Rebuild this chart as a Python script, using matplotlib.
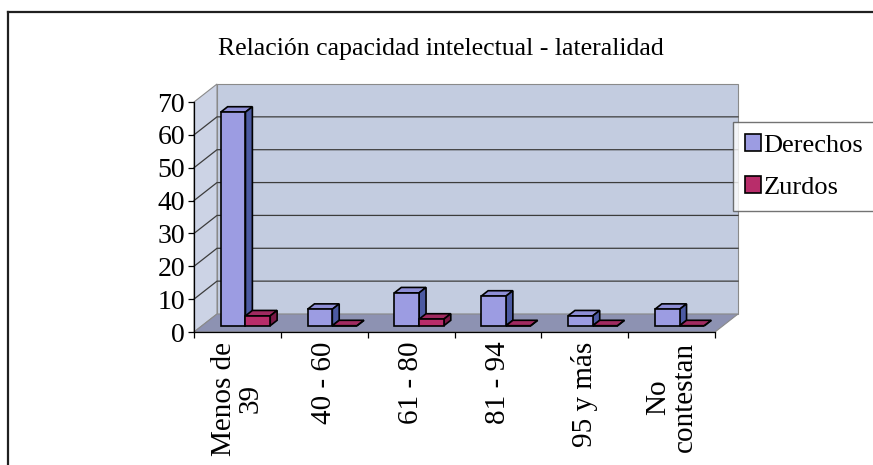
import matplotlib.pyplot as plt
from matplotlib.patches import Polygon

plt.rcParams["font.family"] = ["Liberation Serif", "DejaVu Serif"]

# Data
categories = ["Menos de\n39", "40 - 60", "61 - 80", "81 - 94", "95 y más", "No\ncontestan"]
derechos = [65, 5, 10, 9, 3, 5]
zurdos = [3, 0, 2, 0, 0, 0]
series_names = ["Derechos", "Zurdos"]
title = "Relación capacidad intelectual - lateralidad"

# Colours: front, top, side
colors = {
    "Derechos": ("#9c9ce2", "#8e8ed6", "#4c5aa2"),
    "Zurdos": ("#b82d6a", "#a02a60", "#7a1846"),
}
wall_color = "#c3cce0"
side_wall_color = "#ccd3e5"
floor_color = "#8d92b2"

# Pseudo-3D depth (data units) and bar layout
ddx, ddy = 0.265, 5.48
bar_w = 0.285
f0, f1 = 0.35, 0.65

W, H = 873, 465
fig = plt.figure(figsize=(W / 100, H / 100), dpi=100)
ax = fig.add_axes([194 / W, (H - 332) / H, 521 / W, 230 / H])
ax.set_xlim(0, len(categories))
ax.set_ylim(0, 70)
ax.patch.set_visible(False)

n = len(categories)

# Walls and floor
back = Polygon([(ddx, ddy), (n + ddx, ddy), (n + ddx, 70 + ddy), (ddx, 70 + ddy)],
               closed=True, facecolor=wall_color, edgecolor="#8a8a8a", lw=0.8,
               zorder=0, clip_on=False)
side = Polygon([(0, 0), (ddx, ddy), (ddx, 70 + ddy), (0, 70)],
               closed=True, facecolor=side_wall_color, edgecolor="#8a8a8a", lw=0.8,
               zorder=0, clip_on=False)
floor = Polygon([(0, 0), (n, 0), (n + ddx, ddy), (ddx, ddy)],
                closed=True, facecolor=floor_color, edgecolor="#8a8a8a", lw=0.8,
                zorder=0.2, clip_on=False)
for p in (back, side, floor):
    ax.add_patch(p)

# Gridlines on the back and left walls
for v in range(10, 70, 10):
    ax.plot([0, ddx, n + ddx], [v, v + ddy, v + ddy], color="#3c3c3c", lw=0.9,
            zorder=0.5, clip_on=False)

# Bars
handles = []
for i in range(n):
    for k, (name, vals) in enumerate(zip(series_names, [derechos, zurdos])):
        front_c, top_c, side_c = colors[name]
        v = vals[i]
        x0 = i + 0.5 - bar_w + k * bar_w
        z = 2 + i * 2 + k
        b = ax.bar(x0 + f0 * ddx, v, width=bar_w, bottom=f0 * ddy, align="edge",
                   color=front_c, edgecolor="black", lw=1.2, zorder=z + 0.1)
        if i == 0:
            handles.append(b[0])
        top = Polygon([(x0 + f0 * ddx, v + f0 * ddy), (x0 + bar_w + f0 * ddx, v + f0 * ddy),
                       (x0 + bar_w + f1 * ddx, v + f1 * ddy), (x0 + f1 * ddx, v + f1 * ddy)],
                      closed=True, facecolor=top_c, edgecolor="black", lw=1.2, zorder=z)
        sd = Polygon([(x0 + bar_w + f0 * ddx, f0 * ddy), (x0 + bar_w + f1 * ddx, f1 * ddy),
                      (x0 + bar_w + f1 * ddx, v + f1 * ddy), (x0 + bar_w + f0 * ddx, v + f0 * ddy)],
                     closed=True, facecolor=side_c, edgecolor="black", lw=1.2, zorder=z)
        ax.add_patch(top)
        ax.add_patch(sd)

# Axes
for s in ("top", "right"):
    ax.spines[s].set_visible(False)
ax.spines["left"].set_bounds(0, 70)
ax.spines["left"].set_linewidth(0.9)
ax.spines["bottom"].set_linewidth(0.9)
ax.spines["left"].set_zorder(1)
ax.spines["bottom"].set_zorder(1)

ax.set_yticks(range(0, 80, 10))
ax.tick_params(axis="y", direction="out", length=4.5, width=0.9, pad=2, labelsize=20)

ax.set_xticks(range(n + 1))
ax.set_xticklabels([])
ax.set_xticks([i + 0.5 for i in range(n)], minor=True)
ax.set_xticklabels(categories, minor=True, rotation=90, fontsize=21, va="top",
                   ha="center", multialignment="center", linespacing=1.0)
ax.tick_params(axis="x", which="major", direction="out", length=4.5, width=0.9)
ax.tick_params(axis="x", which="minor", length=0, pad=7)

# Title
fig.text(441 / W, 1 - 55 / H, title, ha="center", va="baseline", fontsize=18.5)

# Legend
leg = ax.legend(handles, series_names, loc="upper left",
                bbox_to_anchor=(733 / W, 1 - 122 / H), bbox_transform=fig.transFigure,
                borderaxespad=0, fontsize=19, frameon=True, fancybox=False,
                handlelength=0.6, handleheight=0.6, handletextpad=0.1,
                labelspacing=0.75, borderpad=0.45)
leg.get_frame().set_edgecolor("#505050")
leg.get_frame().set_linewidth(1.0)

# Outer chart border (left and top visible in the reference)
fig.add_artist(plt.Line2D([8 / W, 8 / W], [0, 1 - 12 / H], transform=fig.transFigure,
                          color="#202020", lw=1.6))
fig.add_artist(plt.Line2D([8 / W, 1], [1 - 12 / H, 1 - 12 / H], transform=fig.transFigure,
                          color="#202020", lw=1.6))

fig.savefig("out.png", dpi=100)
